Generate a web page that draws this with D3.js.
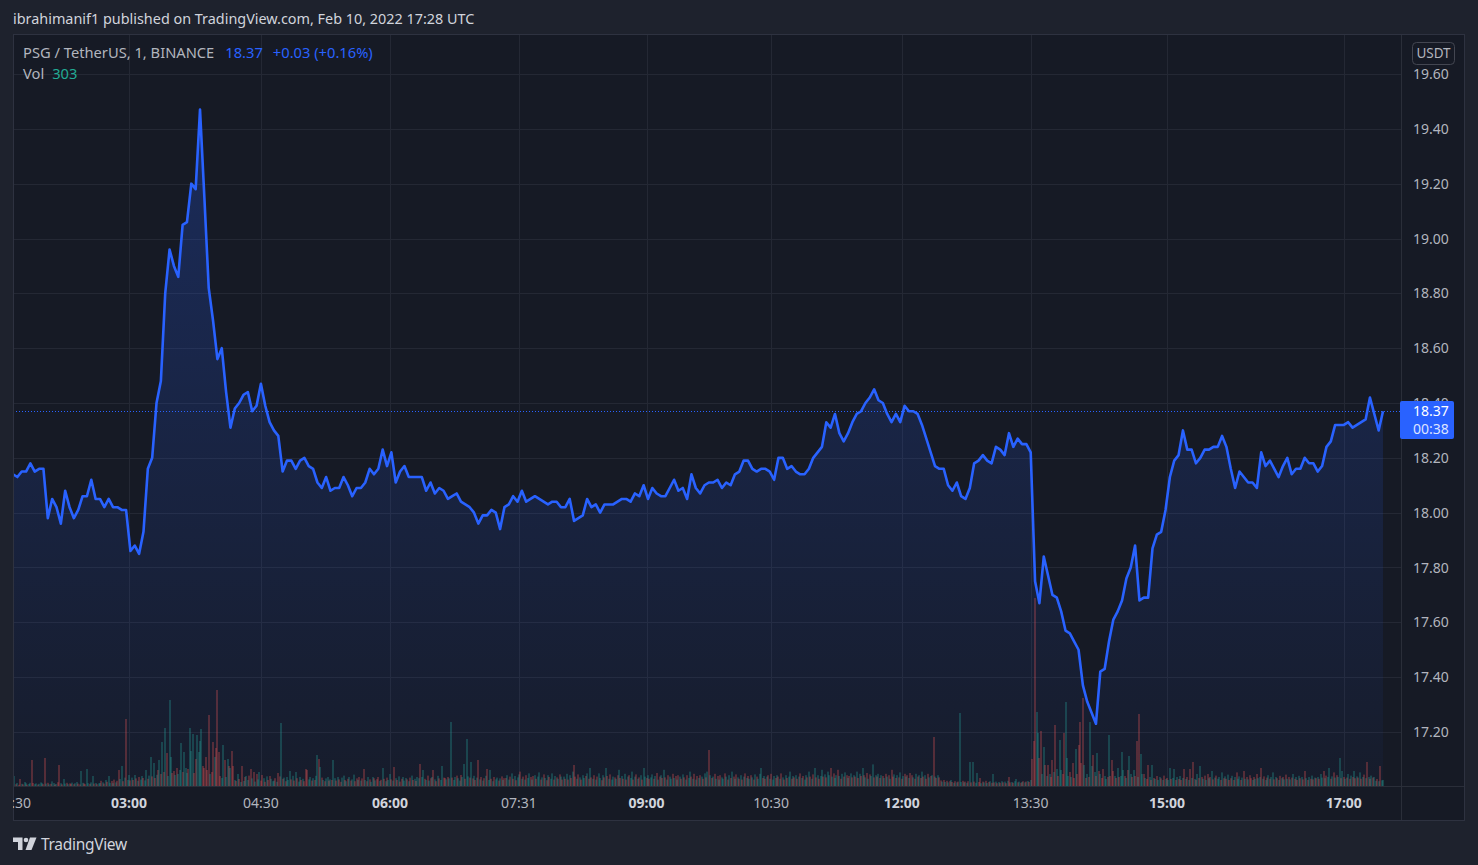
<!DOCTYPE html>
<html><head><meta charset="utf-8">
<script src="https://cdn.jsdelivr.net/npm/d3@7"></script>
<style>
html,body{margin:0;padding:0;background:#1e222d;overflow:hidden}
svg{display:block}
text{font-family:"Noto Sans","Open Sans",sans-serif}
</style></head><body>
<svg id="c" width="1478" height="865"></svg>
<script>
// ---------------- DATA ----------------
const symbolText = "PSG / TetherUS, 1, BINANCE";
const headerText = "ibrahimanif1 published on TradingView.com, Feb 10, 2022 17:28 UTC";
const lastPrice = "18.37";
const changeText = "+0.03 (+0.16%)";
const countdown = "00:38";
const lastVolume = 303;
const currency = "USDT";

// closing price every 3rd one-minute bar (bar 0, 3, 6, ... 945)
const priceStep = 3;
const prices = [
18.14,18.13,18.15,18.15,18.18,18.15,18.16,18.16,17.98,18.05,
18.02,17.96,18.08,18.02,17.98,18.01,18.06,18.06,18.12,18.05,
18.05,18.02,18.05,18.02,18.02,18.01,18.01,17.86,17.88,17.85,
17.93,18.16,18.20,18.40,18.48,18.80,18.96,18.90,18.86,19.05,
19.06,19.20,19.18,19.47,19.15,18.82,18.70,18.56,18.60,18.44,
18.31,18.38,18.40,18.43,18.44,18.37,18.39,18.47,18.39,18.33,
18.30,18.28,18.15,18.19,18.19,18.16,18.19,18.20,18.17,18.16,
18.11,18.09,18.13,18.08,18.09,18.09,18.13,18.10,18.06,18.09,
18.09,18.11,18.16,18.14,18.16,18.23,18.17,18.22,18.11,18.15,
18.17,18.13,18.13,18.13,18.13,18.08,18.11,18.07,18.09,18.08,
18.05,18.06,18.07,18.04,18.03,18.02,18.00,17.96,17.99,17.99,
18.01,18.00,17.94,18.02,18.03,18.06,18.04,18.08,18.04,18.05,
18.06,18.05,18.04,18.03,18.04,18.04,18.02,18.02,18.05,17.97,
17.98,17.99,18.05,18.02,18.03,18.00,18.03,18.03,18.03,18.04,
18.05,18.05,18.04,18.07,18.06,18.10,18.05,18.09,18.07,18.06,
18.06,18.09,18.12,18.08,18.09,18.05,18.14,18.09,18.07,18.10,
18.11,18.11,18.12,18.09,18.11,18.10,18.14,18.15,18.19,18.19,
18.16,18.15,18.16,18.16,18.15,18.12,18.20,18.20,18.16,18.17,
18.15,18.14,18.14,18.16,18.20,18.22,18.24,18.33,18.31,18.36,
18.29,18.26,18.29,18.33,18.36,18.37,18.40,18.42,18.45,18.41,
18.40,18.36,18.33,18.36,18.33,18.39,18.37,18.37,18.36,18.32,
18.27,18.22,18.17,18.16,18.16,18.10,18.08,18.11,18.06,18.05,
18.09,18.18,18.19,18.21,18.19,18.18,18.24,18.23,18.21,18.29,
18.24,18.27,18.25,18.25,18.22,17.75,17.67,17.84,17.77,17.70,
17.69,17.64,17.57,17.56,17.53,17.50,17.37,17.31,17.27,17.23,
17.42,17.43,17.53,17.61,17.64,17.68,17.76,17.80,17.88,17.68,
17.69,17.69,17.87,17.92,17.93,18.01,18.13,18.19,18.21,18.30,
18.23,18.23,18.18,18.20,18.23,18.23,18.24,18.24,18.28,18.24,
18.16,18.09,18.15,18.13,18.11,18.11,18.09,18.22,18.17,18.19,
18.16,18.13,18.17,18.20,18.14,18.16,18.16,18.20,18.18,18.18,
18.15,18.17,18.24,18.26,18.32,18.32,18.32,18.33,18.31,18.32,
18.33,18.34,18.42,18.36,18.30,18.37
];

// one-minute volumes, bar 0..945 ; negative = bar closed down (red)
const volumes = [
120,500,-90,150,-60,-350,110,-80,200,140,-70,100,160,-1300,-150,90,130,-70,110,180,
140,-90,-1400,120,-160,80,-110,230,150,-70,100,-190,-1050,140,-80,350,120,-160,90,-130,
-110,170,-90,140,200,-120,-80,750,160,-130,-90,850,140,-110,180,500,-120,150,-90,130,
150,-260,180,-120,300,-210,500,160,-250,140,-320,180,-260,-800,350,1000,-240,420,-3350,300,
550,-280,420,-300,550,-380,260,-450,320,500,-400,280,800,-360,520,1450,-480,1150,-400,560,
-800,1300,-600,2200,-700,2900,-1650,500,4300,1450,-650,-750,550,-900,600,800,2150,-700,1700,900,
650,-850,2900,1750,2600,-650,-1350,2550,1700,2250,2850,-1000,-900,-1450,-800,-3550,600,-700,-2200,1450,
-1900,-4800,-1700,-500,400,2050,-1300,450,1350,-1000,900,-1750,-1000,300,-250,600,-350,200,-1000,250,
-450,500,300,-520,-850,380,-700,220,-600,330,700,-270,-550,390,-210,480,-300,-500,360,240,
270,-390,210,-650,-480,3150,-360,420,-240,450,300,750,-330,510,-270,700,-390,220,450,-300,
360,-240,-850,-800,330,450,-270,390,-300,510,1550,-1350,950,-420,300,-240,380,450,-270,330,
-300,1300,390,-270,450,-330,-210,420,520,-300,240,-360,450,-270,330,570,-240,-380,300,-450,
270,-380,-850,300,-240,450,-330,210,450,-390,280,-340,-450,250,-310,900,-360,240,-420,300,
600,-330,270,-950,390,-300,480,-220,-360,450,270,400,-330,240,-420,520,-300,360,-250,450,
390,-1100,450,800,-360,300,-520,270,-390,450,-800,330,-240,510,-380,300,1000,-420,-400,330,
-450,380,3200,-420,300,450,-520,390,270,-550,450,1100,-360,2350,480,-420,1200,-380,510,-300,
420,-1300,330,-450,270,-390,510,-850,300,800,-360,240,-450,330,420,-270,380,-480,300,-390,
-400,540,320,-470,630,-360,500,-290,430,580,-720,360,-470,320,-540,400,630,-450,320,-500,
540,-360,470,680,-320,430,-580,400,-290,540,-450,360,630,-320,500,-430,360,-580,470,-320,
470,-360,610,-320,540,-400,720,-1050,-470,360,-580,430,-320,540,400,-500,630,-360,900,-430,
360,-540,320,-470,630,400,-290,540,-430,900,-500,360,-580,320,470,-430,360,-540,810,-400,
500,-360,610,-320,470,-540,400,720,-320,470,-580,360,-430,540,-320,900,470,-400,540,-360,
430,580,-360,500,-650,320,-470,540,-400,810,-430,320,-540,470,360,-610,400,-500,320,-540,
470,-360,580,-430,320,-540,400,720,-470,360,-610,320,-500,400,-540,470,-360,630,-430,720,
-1800,540,-400,470,-610,360,-500,320,-540,430,360,-630,470,-320,540,-400,720,-470,360,-580,
430,-360,540,-320,470,-630,400,-500,360,-540,430,-320,580,-470,360,610,900,-400,500,-360,
470,-540,360,-610,320,500,-400,540,-470,360,-630,430,-320,540,-400,470,720,-360,500,-430,
540,-360,470,-630,400,-500,320,540,-430,720,-470,360,-580,900,-430,540,-360,500,810,-470,
580,-430,720,540,-900,470,-630,400,540,-810,500,-360,610,-470,680,-540,400,-500,630,-430,
540,-470,720,-400,610,-500,900,-540,430,-650,360,-580,500,1080,-430,540,-470,610,-400,540,
-500,400,-610,470,-540,360,-810,-470,580,-400,540,-430,680,-360,500,-610,470,-540,400,-650,
-540,430,-360,610,-470,540,-400,720,-470,540,-360,-610,430,-500,540,-2450,470,-400,540,-430,
-280,220,-300,200,-260,180,-240,300,-200,160,-240,180,-220,3650,200,-260,180,-220,160,-240,
1200,-180,1200,-220,160,650,-200,-400,140,-220,180,-260,150,-200,240,-160,600,-180,220,-140,
200,-160,240,-180,220,-140,260,-450,-180,200,-160,240,350,-180,220,-160,200,-240,180,-220,
250,-200,300,-1350,-2250,-9400,3700,2650,-1400,-2750,600,1950,-1050,500,-1050,600,-450,-1300,700,-3050,
850,-500,2300,800,-600,-2650,4200,1400,500,-700,450,-1150,-400,1850,-600,-2050,-3200,-1150,-4400,1050,
-400,600,-450,3200,1000,-1550,700,-500,1650,-750,600,-400,-850,500,350,-450,2550,-500,-1300,-750,
500,-400,900,-450,500,1700,800,-500,400,-800,1500,600,-450,800,-500,-2250,450,-3600,1600,600,
-600,400,-350,-1050,450,-300,1050,-400,350,-500,300,450,-380,300,-520,350,-400,300,900,-350,
400,850,-300,450,-350,500,-300,400,-850,350,-450,300,-850,400,-1200,350,-300,600,-400,1000,
-450,360,-520,300,-600,390,-450,750,-330,420,-520,360,450,-300,680,-390,480,-360,570,-300,
-390,510,-300,450,-680,360,480,-300,420,-750,360,-450,330,-540,-390,300,-450,360,-600,390,
450,-900,360,-480,300,-420,540,-360,450,680,-330,450,-390,300,-510,390,-450,330,-570,360,
-450,330,-420,600,-360,450,-300,510,-390,450,-330,-750,390,-300,450,-360,520,-330,420,-390,
450,-360,600,420,-750,390,-520,450,900,-360,480,-680,420,-540,450,1400,-390,750,-450,360,
-420,600,-360,520,-450,750,-390,480,-420,680,-360,450,-570,390,-1200,450,-360,520,-420,450,
260,-350,240,-1000,280,303
];

const priceTicks = [17.2,17.4,17.6,17.8,18.0,18.2,18.4,18.6,18.8,19.0,19.2,19.4,19.6];
const timeLabels = ["01:30","03:00","04:30","06:00","07:31","09:00","10:30","12:00","13:30","15:00","17:00"];
const timeBars   = [0,80,171,260,349,437,523,613,702,796,918];

// ---------------- LAYOUT ----------------
const svg = d3.select('#c');
const L=13, T=34, R=1401, B=786, FR=1465, FB=821;
const nBars = volumes.length;

const x = d3.scaleLinear().domain([0, nBars-1]).range([L, 1383]);
const y = d3.scaleLinear().domain([17.2, 19.6]).range([732, 74]);
const yv = d3.scaleLinear().domain([0, 10000]).range([B, B-200]);

const defs = svg.append('defs');
defs.append('clipPath').attr('id','plotClip').append('rect')
  .attr('x',L).attr('y',T).attr('width',R-L).attr('height',B-T);
defs.append('clipPath').attr('id','timeClip').append('rect')
  .attr('x',L).attr('y',B).attr('width',R-L).attr('height',FB-B);
const grad = defs.append('linearGradient').attr('id','areaGrad')
  .attr('gradientUnits','userSpaceOnUse').attr('x1',0).attr('x2',0).attr('y1',100).attr('y2',B);
grad.append('stop').attr('offset',0).attr('stop-color','#2962ff').attr('stop-opacity',0.25);
grad.append('stop').attr('offset',1).attr('stop-color','#2962ff').attr('stop-opacity',0.03);

// backgrounds
svg.append('rect').attr('width',1478).attr('height',865).attr('fill','#1e222d');
svg.append('rect').attr('x',L).attr('y',T).attr('width',FR-L).attr('height',FB-T).attr('fill','#161a25');

// gridlines
const grid = svg.append('g').attr('clip-path','url(#plotClip)');
grid.selectAll('line.h').data(priceTicks).join('line')
  .attr('x1',L).attr('x2',R).attr('y1',d=>Math.round(y(d))+0.5).attr('y2',d=>Math.round(y(d))+0.5)
  .attr('stroke','#242834').attr('stroke-width',1);
grid.selectAll('line.v').data(timeBars).join('line')
  .attr('y1',T).attr('y2',B).attr('x1',d=>Math.round(x(d))+0.5).attr('x2',d=>Math.round(x(d))+0.5)
  .attr('stroke','#242834').attr('stroke-width',1);

// volume bars
const plot = svg.append('g').attr('clip-path','url(#plotClip)');
plot.append('g').selectAll('rect').data(volumes).join('rect')
  .attr('x',(d,i)=>Math.round(x(i))-0.5)
  .attr('width',1)
  .attr('y',d=>yv(Math.abs(d)))
  .attr('height',d=>B-yv(Math.abs(d)))
  .attr('fill',d=>d>=0?'rgba(38,166,154,0.6)':'rgba(239,83,80,0.6)');

// area + line
const area = d3.area().x((d,i)=>x(i*priceStep)).y0(B).y1(d=>y(d));
const line = d3.line().x((d,i)=>x(i*priceStep)).y(d=>y(d));
plot.append('path').datum(prices).attr('d',area).attr('fill','url(#areaGrad)');
plot.append('path').datum(prices).attr('d',line).attr('fill','none')
  .attr('stroke','#2962ff').attr('stroke-width',2.6).attr('stroke-linejoin','round');

// last price dotted line
const lastY = Math.round(y(+lastPrice))+0.5;
plot.append('line').attr('x1',L).attr('x2',R).attr('y1',lastY).attr('y2',lastY)
  .attr('stroke','#2962ff').attr('stroke-width',1).attr('stroke-dasharray','1,2');

// separators & frame
svg.append('line').attr('x1',R+0.5).attr('x2',R+0.5).attr('y1',T).attr('y2',FB).attr('stroke','#2a2e39');
svg.append('line').attr('x1',L).attr('x2',FR).attr('y1',B+0.5).attr('y2',B+0.5).attr('stroke','#2a2e39');
svg.append('rect').attr('x',L+0.5).attr('y',T+0.5).attr('width',FR-L-1).attr('height',FB-T-1)
  .attr('fill','none').attr('stroke','#2e3240');

// price axis labels
svg.append('g').selectAll('text').data(priceTicks).join('text')
  .attr('x',1431).attr('y',d=>y(d)+5).attr('text-anchor','middle')
  .attr('font-size',14).attr('fill','#b2b5be').text(d=>d.toFixed(2));

// currency badge
svg.append('rect').attr('x',1412.5).attr('y',42.5).attr('width',42).attr('height',22).attr('rx',4)
  .attr('fill','#161a25').attr('stroke','#434651');
svg.append('text').attr('x',1433.5).attr('y',58).attr('text-anchor','middle')
  .attr('font-size',13.5).attr('fill','#b2b5be').text(currency);

// last price badge
svg.append('rect').attr('x',1400).attr('y',401).attr('width',54).attr('height',38).attr('rx',2).attr('fill','#2962ff');
svg.append('text').attr('x',1431).attr('y',416).attr('text-anchor','middle')
  .attr('font-size',14).attr('fill','#ffffff').text(lastPrice);
svg.append('text').attr('x',1431).attr('y',434).attr('text-anchor','middle')
  .attr('font-size',14).attr('fill','#ffffff').attr('fill-opacity',0.85).text(countdown);

// time axis labels
svg.append('g').attr('clip-path','url(#timeClip)').selectAll('text').data(timeLabels).join('text')
  .attr('x',(d,i)=>x(timeBars[i])).attr('y',808).attr('text-anchor','middle')
  .attr('font-size',14)
  .attr('font-weight',d=>d.endsWith(':00')?700:400)
  .attr('fill',d=>d.endsWith(':00')?'#d1d4dc':'#b2b5be')
  .text(d=>d);

// header
svg.append('text').attr('x',13).attr('y',24).attr('font-size',14.4).attr('fill','#d1d4dc').text(headerText);

// legend
const lg = svg.append('text').attr('x',23).attr('y',58).attr('font-size',14.7);
lg.append('tspan').attr('fill','#b2b5be').text(symbolText);
lg.append('tspan').attr('dx',11).attr('fill','#2962ff').text(lastPrice);
lg.append('tspan').attr('dx',10).attr('fill','#2962ff').text(changeText);
const lv = svg.append('text').attr('x',23).attr('y',79).attr('font-size',14.7);
lv.append('tspan').attr('fill','#b2b5be').text('Vol');
lv.append('tspan').attr('dx',8).attr('fill','#22ab94').text(lastVolume);

// logo
const logo = svg.append('g').attr('fill','#d1d4dc');
logo.append('path').attr('d','M13,837.5 H22.5 V850 H18 V842 H13 Z');
logo.append('circle').attr('cx',26).attr('cy',840).attr('r',2.3);
logo.append('path').attr('d','M30,837.5 H36.5 L31.5,850 H25.5 Z');
svg.append('text').attr('x',41).attr('y',850).attr('font-size',15.5).attr('fill','#d1d4dc')
  .attr('letter-spacing','-0.3').text('TradingView');
</script>
</body></html>
